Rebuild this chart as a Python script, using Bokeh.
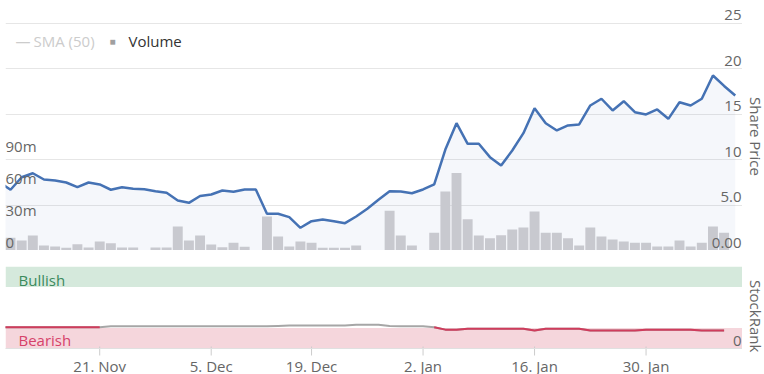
import math
from bokeh.plotting import figure
from bokeh.models import Range1d, FixedTicker, Grid, Label
from bokeh.layouts import column, row
from bokeh.embed import file_html
from bokeh.resources import INLINE
from bokeh.core.properties import value

# ---------------- data (trading-day index: 0 = 9 Nov 2022 ... 65 = 9 Feb 2023) ----------------
price_idx = list(range(-1, 66))
price = [7.53, 6.69, 8.07, 8.51, 7.82, 7.71, 7.49, 6.97, 7.49, 7.27,
         6.69, 6.97, 6.80, 6.75, 6.53, 6.35, 5.51, 5.25, 6.00, 6.17,
         6.61, 6.46, 6.72, 6.72, 4.04, 4.04, 3.67, 2.50, 3.23, 3.41,
         3.23, 3.01, 3.74, 4.59, 5.58, 6.53, 6.50, 6.31, 6.72, 7.27,
         11.12, 14.02, 11.75, 11.75, 10.28, 9.36, 11.01, 12.92, 15.67, 14.02,
         13.22, 13.77, 13.88, 15.97, 16.71, 15.42, 16.44, 15.23, 14.98, 15.53,
         14.50, 16.33, 15.97, 16.71, 19.27, 18.12, 17.07]

volume_idx = list(range(0, 66))
volume_m = [11.8, 9.3, 13.9, 4.6, 3.7, 2.5, 5.8, 2.8, 8.4, 6.8,
            2.8, 2.8, 0.0, 2.8, 2.8, 22.3, 9.3, 13.9, 5.6, 3.1,
            7.1, 3.4, 0.0, 31.6, 13.0, 3.7, 8.4, 7.1, 2.5, 2.5,
            2.5, 4.6, 0.0, 0.0, 37.0, 13.9, 4.6, 0.0, 16.4, 54.8,
            72.0, 28.9, 14.0, 11.4, 14.2, 19.5, 21.4, 36.2, 16.4, 16.4,
            11.4, 4.6, 21.4, 13.0, 10.2, 8.4, 7.1, 7.1, 3.7, 3.7,
            9.3, 3.7, 7.1, 22.3, 16.4, 0.0]

rank_idx = list(range(-1, 65))
stockrank = [26, 26, 26, 26, 26, 26, 26, 26, 26, 26,
             27, 27, 27, 27, 27, 27, 27, 27, 27, 27,
             27, 27, 27, 27, 27, 27.5, 28, 28, 28, 28,
             28, 28, 29, 29, 29, 27.5, 27, 27, 27, 26,
             23, 23, 24, 24, 24, 24, 24, 24, 22, 24,
             24, 24, 24, 22, 22, 22, 22, 22, 23, 23,
             23, 23, 23, 22, 22, 22]
rank_threshold = 26.5

price_ticks = [0, 5, 10, 15, 20, 25]
price_tick_labels = ["0.00", "5.0", "10", "15", "20", "25"]
volume_ticks = [0, 30, 60, 90]
volume_tick_labels = ["0", "30m", "60m", "90m"]
date_ticks = [8, 18, 27, 37, 47, 57]
date_tick_labels = ["21. Nov", "5. Dec", "19. Dec", "2. Jan", "16. Jan", "30. Jan"]

FONT = "Open Sans"
FS = "15px"
LABEL_COL = "#666666"
X_START, X_END = -0.45, 65.65
TITLE_W = 22


def title_strip(height, text, center_from_top):
    """A narrow companion figure that carries a vertical axis title."""
    t = figure(width=TITLE_W, height=height, x_range=Range1d(0, TITLE_W),
               y_range=Range1d(0, height), x_axis_location=None, y_axis_location=None,
               output_backend="svg", toolbar_location=None, min_border=0)
    t.outline_line_color = None
    for g in t.grid:
        g.visible = False
    t.add_layout(Label(x=13, y=height - center_from_top, angle=-math.pi / 2, text=text,
                       text_align="center", text_baseline="middle", text_font=FONT,
                       text_font_size=FS, text_color=LABEL_COL))
    return t


# ---------------- main panel: price + volume ----------------
x_range = Range1d(X_START, X_END)
p1 = figure(width=764 - TITLE_W, height=250, x_range=x_range, y_range=Range1d(0, 27.53),
            x_axis_location=None, y_axis_location=None, output_backend="svg",
            toolbar_location=None, min_border_left=5, min_border_right=0,
            min_border_top=0, min_border_bottom=0)
p1.outline_line_color = None
for g in p1.grid:
    g.visible = False
p1.extra_y_ranges = {"vol": Range1d(0, 232.1)}

p1.add_layout(Grid(dimension=1, ticker=FixedTicker(ticks=price_ticks),
                   grid_line_color="#e6e6e6", grid_line_width=1))

p1.varea(x=price_idx, y1=[0] * len(price), y2=price, fill_color="#4572b4", fill_alpha=0.055)
p1.vbar(x=volume_idx, top=volume_m, width=0.89, y_range_name="vol",
        fill_color="#c8c9cf", line_color=None)
p1.line(price_idx, price, line_color="#4572b4", line_width=2.5)

p1.text(x=[X_END] * len(price_ticks), y=price_ticks, text=price_tick_labels,
        text_align="right", text_baseline="middle", y_offset=-8, x_offset=-1,
        text_font=value(FONT), text_font_size=FS, text_color=LABEL_COL)
p1.text(x=[X_START] * len(volume_ticks), y=volume_ticks, text=volume_tick_labels,
        y_range_name="vol", text_align="left", text_baseline="middle", y_offset=-8,
        text_font=value(FONT), text_font_size=FS, text_color=LABEL_COL)

for txt, xx, col, size in [("\u2014", 15, "#cccccc", FS), ("SMA (50)", 33, "#cccccc", FS),
                           ("\u25A0", 109, "#a0a0a0", "10px"), ("Volume", 128, "#333333", FS)]:
    p1.add_layout(Label(x=xx - 5, y=210, x_units="screen", y_units="screen", text=txt,
                        text_font=FONT, text_font_size=size, text_color=col,
                        text_baseline="middle"))

t1 = title_strip(250, "Share Price", 136)

# ---------------- StockRank panel (its date axis drawn from the tick arrays) ----------------
PX_PER_UNIT = 0.82
p2 = figure(width=764 - TITLE_W, height=124, x_range=x_range,
            y_range=Range1d(-26 / PX_PER_UNIT, 100),
            x_axis_location=None, y_axis_location=None, output_backend="svg",
            toolbar_location=None, min_border_left=5, min_border_right=0,
            min_border_top=16, min_border_bottom=0)
p2.outline_line_color = None
for g in p2.grid:
    g.visible = False

p2.quad(left=[X_START], right=[X_END], bottom=[75], top=[100], fill_color="#d5e9dc", line_color=None)
p2.quad(left=[X_START], right=[X_END], bottom=[0], top=[25], fill_color="#f5d6dc", line_color=None)
p2.add_layout(Grid(dimension=1, ticker=FixedTicker(ticks=[0, 100]), grid_line_color="#e0e0e0",
                   level="overlay"))

p2.line(rank_idx, stockrank, line_color="#a6a6a6", line_width=2)
red_vals = [v if v < rank_threshold else float("nan") for v in stockrank]
p2.line(rank_idx, red_vals, line_color="#d03c5c", line_width=2)

p2.add_layout(Label(x=X_START, y=83, x_offset=13, text="Bullish", text_font=FONT,
                    text_font_size=FS, text_color="#3a8a5c", text_baseline="middle"))
p2.add_layout(Label(x=X_START, y=10, x_offset=13, text="Bearish", text_font=FONT,
                    text_font_size=FS, text_color="#d6426a", text_baseline="middle"))
p2.text(x=[X_END], y=[0], text=["0"], text_align="right", text_baseline="middle",
        y_offset=-8, x_offset=-1, text_font=value(FONT), text_font_size=FS,
        text_color=LABEL_COL)

# date ticks + labels
p2.segment(x0=date_ticks, x1=date_ticks, y0=[2 / PX_PER_UNIT] * len(date_ticks),
           y1=[-7 / PX_PER_UNIT] * len(date_ticks), line_color="#cccccc", line_width=1)
p2.text(x=date_ticks, y=[0] * len(date_ticks), text=date_tick_labels, y_offset=17,
        text_align="center", text_baseline="middle", text_font=value(FONT),
        text_font_size=FS, text_color=LABEL_COL)

t2 = title_strip(124, "StockRank", 307 - 250)

layout = column(row(p1, t1, spacing=0), row(p2, t2, spacing=0), spacing=0)
layout.styles = {"position": "absolute", "left": "0px", "top": "0px"}

open("out.html", "w").write(file_html(layout, INLINE))
